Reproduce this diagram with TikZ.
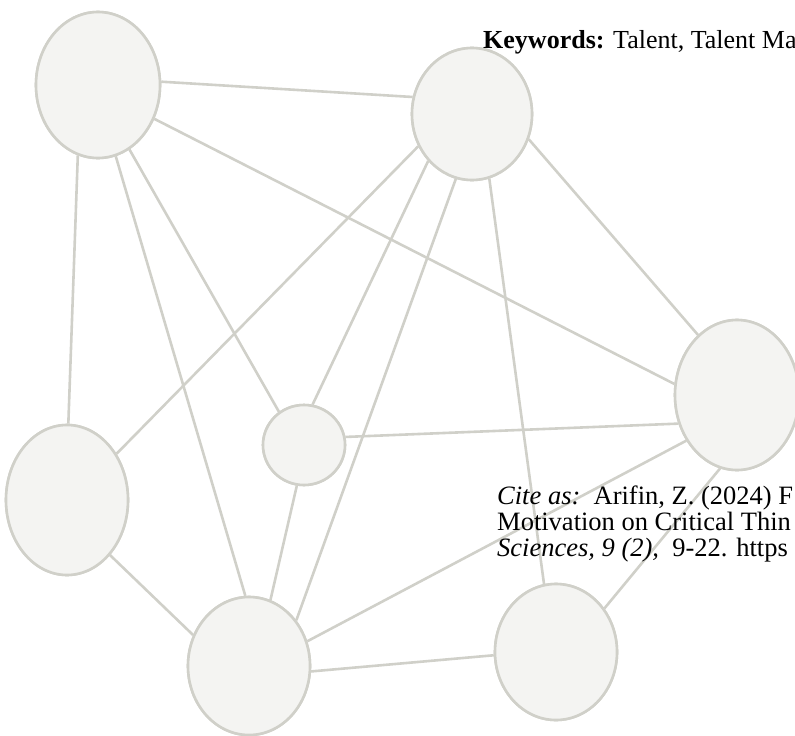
\documentclass[tikz,border=0pt]{standalone}
\usepackage{fontspec}
\setmainfont{Liberation Serif}
\usetikzlibrary{shapes.geometric}
\definecolor{edgegray}{RGB}{208,208,201}
\definecolor{nodefill}{RGB}{244,244,242}
\tikzset{
  blob/.style={ellipse, draw=edgegray, fill=nodefill, line width=2.6pt, inner sep=0pt},
  link/.style={draw=edgegray, line width=2.6pt},
  txt/.style={anchor=base west, inner sep=0pt, font=\fontsize{26.5}{27}\selectfont, text=black}
}
\begin{document}
\begin{tikzpicture}[x=1pt,y=-1pt]
\useasboundingbox (0,0) rectangle (795,736);
% nodes
\node[blob, minimum width=124, minimum height=146] (A) at (98,85) {};
\node[blob, minimum width=120, minimum height=132] (B) at (472,114) {};
\node[blob, minimum width=124, minimum height=150] (C) at (737,395) {};
\node[blob, minimum width=82, minimum height=80] (D) at (304,445) {};
\node[blob, minimum width=122, minimum height=150] (E) at (67,500) {};
\node[blob, minimum width=122, minimum height=138] (F) at (249,666) {};
\node[blob, minimum width=122, minimum height=136] (G) at (556,652) {};
% edges
\path[link] (A.3) -- (B.164);
\path[link] (A.-31) -- (C.170);
\path[link] (A.-106) -- (E.89);
\path[link] (A.-76) -- (F.93);
\path[link] (A.-64) -- (D.127);
\path[link] (B.211) -- (E.43);
\path[link] (B.227) -- (D.78);
\path[link] (B.256) -- (F.44);
\path[link] (B.-75) -- (G.100);
\path[link] (B.-24) -- (C.123);
\path[link] (D.11) -- (C.206);
\path[link] (D.-100) -- (F.72);
\path[link] (E.-52) -- (F.151);
\path[link] (F.-5) -- (G.183);
\path[link] (F.23) -- (C.222);
\path[link] (G.42) -- (C.257);
% redraw nodes over edges
\node[blob, minimum width=124, minimum height=146] at (A) {};
\node[blob, minimum width=120, minimum height=132] at (B) {};
\node[blob, minimum width=124, minimum height=150] at (C) {};
\node[blob, minimum width=82, minimum height=80] at (D) {};
\node[blob, minimum width=122, minimum height=150] at (E) {};
\node[blob, minimum width=122, minimum height=138] at (F) {};
\node[blob, minimum width=122, minimum height=136] at (G) {};
% texts
\node[txt, font=\fontsize{26}{27}\selectfont] (kw) at (483,48) {\textbf{Keywords:} Talent, Talent Ma};
\node[txt] (c1) at (497,504) {\textit{Cite as:}\ \ Arifin, Z. (2024) F};
\node[txt] (c2) at (497,530) {Motivation on Critical Thin};
\node[txt] (c3) at (497,556) {\textit{Sciences, 9 (2),}\ \ 9-22. https};
\end{tikzpicture}
\end{document}
